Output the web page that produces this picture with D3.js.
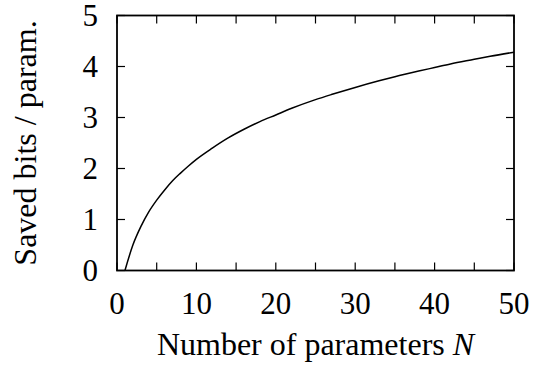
<!DOCTYPE html>
<html>
<head>
<meta charset="utf-8">
<script src="https://cdn.jsdelivr.net/npm/d3@7"></script>
</head>
<body style="margin:0;background:#fff">
<svg id="chart" width="534" height="372" style="display:block" font-family="Liberation Serif"></svg>
<script>
// Number of parameters N
const paramCounts = [1, 2, 3, 4, 5, 6, 7, 8, 9, 10, 12, 14, 16, 18, 20, 22, 25, 27, 30, 33, 35, 38, 40, 42, 45, 47, 50];
// Saved bits per parameter
const savedBits = [0, 0.50, 0.86, 1.15, 1.38, 1.58, 1.76, 1.91, 2.05, 2.18, 2.40, 2.60, 2.77, 2.92, 3.05, 3.18, 3.35, 3.45, 3.59, 3.72, 3.80, 3.91, 3.98, 4.05, 4.14, 4.20, 4.28];

const xTicks = [0, 10, 20, 30, 40, 50];
const xMinorTicks = [5, 15, 25, 35, 45];
const yTicks = [0, 1, 2, 3, 4, 5];

const fontFamily = '"Liberation Serif", "Times New Roman"';
const fontSpec = size => `${size}px ${fontFamily}`;

const svg = d3.select("#chart");
const margin = { left: 117, right: 20, top: 15.5, bottom: 101.5 };
const W = 534, H = 372;
const x = d3.scaleLinear().domain([0, 50]).range([margin.left, W - margin.right]);
const y = d3.scaleLinear().domain([0, 5]).range([H - margin.bottom, margin.top]);

const tickLen = 8;
const tickFont = 31;
const titleFont = 32;

// Inward ticks on all four sides (mirrored)
const allX = xTicks.concat(xMinorTicks);
const tickG = svg.append("g").attr("stroke", "#000").attr("stroke-width", 1.2);
allX.forEach(v => {
  tickG.append("line").attr("x1", x(v)).attr("x2", x(v)).attr("y1", y(0)).attr("y2", y(0) - tickLen);
  tickG.append("line").attr("x1", x(v)).attr("x2", x(v)).attr("y1", y(5)).attr("y2", y(5) + tickLen);
});
yTicks.forEach(v => {
  tickG.append("line").attr("x1", x(0)).attr("x2", x(0) + tickLen).attr("y1", y(v)).attr("y2", y(v));
  tickG.append("line").attr("x1", x(50)).attr("x2", x(50) - tickLen).attr("y1", y(v)).attr("y2", y(v));
});

// Frame
svg.append("rect")
  .attr("x", x(0)).attr("y", y(5))
  .attr("width", x(50) - x(0)).attr("height", y(0) - y(5))
  .attr("fill", "none").attr("stroke", "#000").attr("stroke-width", 1.8);

// Tick labels
svg.append("g").selectAll("text").data(xTicks).join("text")
  .style("font", fontSpec(tickFont))
  .attr("x", d => x(d)).attr("y", y(0) + 43)
  .attr("text-anchor", "middle")
  .text(d => String(d));
svg.append("g").selectAll("text").data(yTicks).join("text")
  .style("font", fontSpec(tickFont))
  .attr("x", x(0) - 19).attr("y", d => y(d) + 10.5)
  .attr("text-anchor", "end")
  .text(d => String(d));

// Axis titles
const xt = svg.append("text")
  .style("font", fontSpec(titleFont))
  .attr("x", (x(0) + x(50)) / 2).attr("y", 355)
  .attr("text-anchor", "middle");
xt.append("tspan").text("Number of parameters ");
xt.append("tspan").style("font-style", "italic").text("N");

svg.append("text")
  .style("font", fontSpec(titleFont))
  .attr("transform", `translate(36,${(y(0) + y(5)) / 2}) rotate(-90)`)
  .attr("text-anchor", "middle")
  .text("Saved bits / param.");

// Curve
const line = d3.line()
  .x((d, i) => x(paramCounts[i]))
  .y(d => y(d))
  .curve(d3.curveMonotoneX);
svg.append("path")
  .datum(savedBits)
  .attr("d", line)
  .attr("fill", "none").attr("stroke", "#000").attr("stroke-width", 1.5);
</script>
</body>
</html>
